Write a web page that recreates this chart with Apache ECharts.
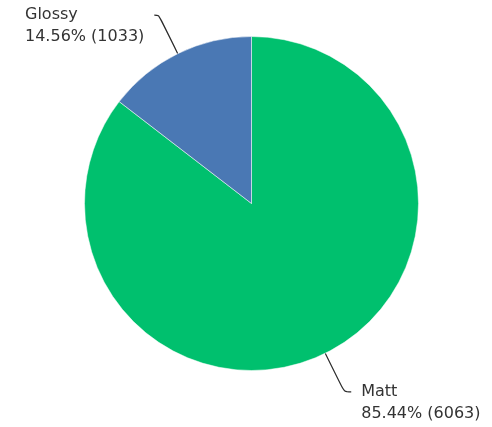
<!DOCTYPE html>
<html><head><meta charset="utf-8">
<script src="https://cdn.jsdelivr.net/npm/echarts@6/dist/echarts.min.js"></script>
<style>html,body{margin:0;padding:0;background:#fff}#c{width:492px;height:427px}</style>
</head><body><div id="c"></div>
<script>
const categories = ['Matt', 'Glossy'];
const values = [6063, 1033];
const colors = ['#00c06e', '#4a78b4'];

const chart = echarts.init(document.getElementById('c'), null, {renderer: 'canvas'});
const labelStyles = [
  {distanceToLabelLine: 10},
  {alignTo: 'edge', edgeDistance: 25, distanceToLabelLine: 10, overflow: 'none'}
];
const data = categories.map((name, i) => ({
  name: name,
  value: values[i],
  itemStyle: {color: colors[i]},
  label: labelStyles[i]
}));
chart.setOption({
  animation: false,
  series: [{
    type: 'pie',
    center: [251.5, 203.5],
    radius: 167,
    startAngle: 90,
    clockwise: true,
    itemStyle: {borderColor: '#ffffff', borderWidth: 0.5},
    label: {
      show: true,
      position: 'outside',
      formatter: '{sp| }\n{b}\n{d}% ({c})',
      fontFamily: 'DejaVu Sans',
      fontSize: 16,
      lineHeight: 22,
      color: '#333333',
      overflow: 'none',
      rich: {
        sp: {fontSize: 10, lineHeight: 22}
      }
    },
    labelLine: {
      show: true,
      length: 43,
      length2: 7,
      smooth: 0.3,
      lineStyle: {color: '#2b2b2b', width: 1.2}
    },
    data: data
  }]
});
</script></body></html>
